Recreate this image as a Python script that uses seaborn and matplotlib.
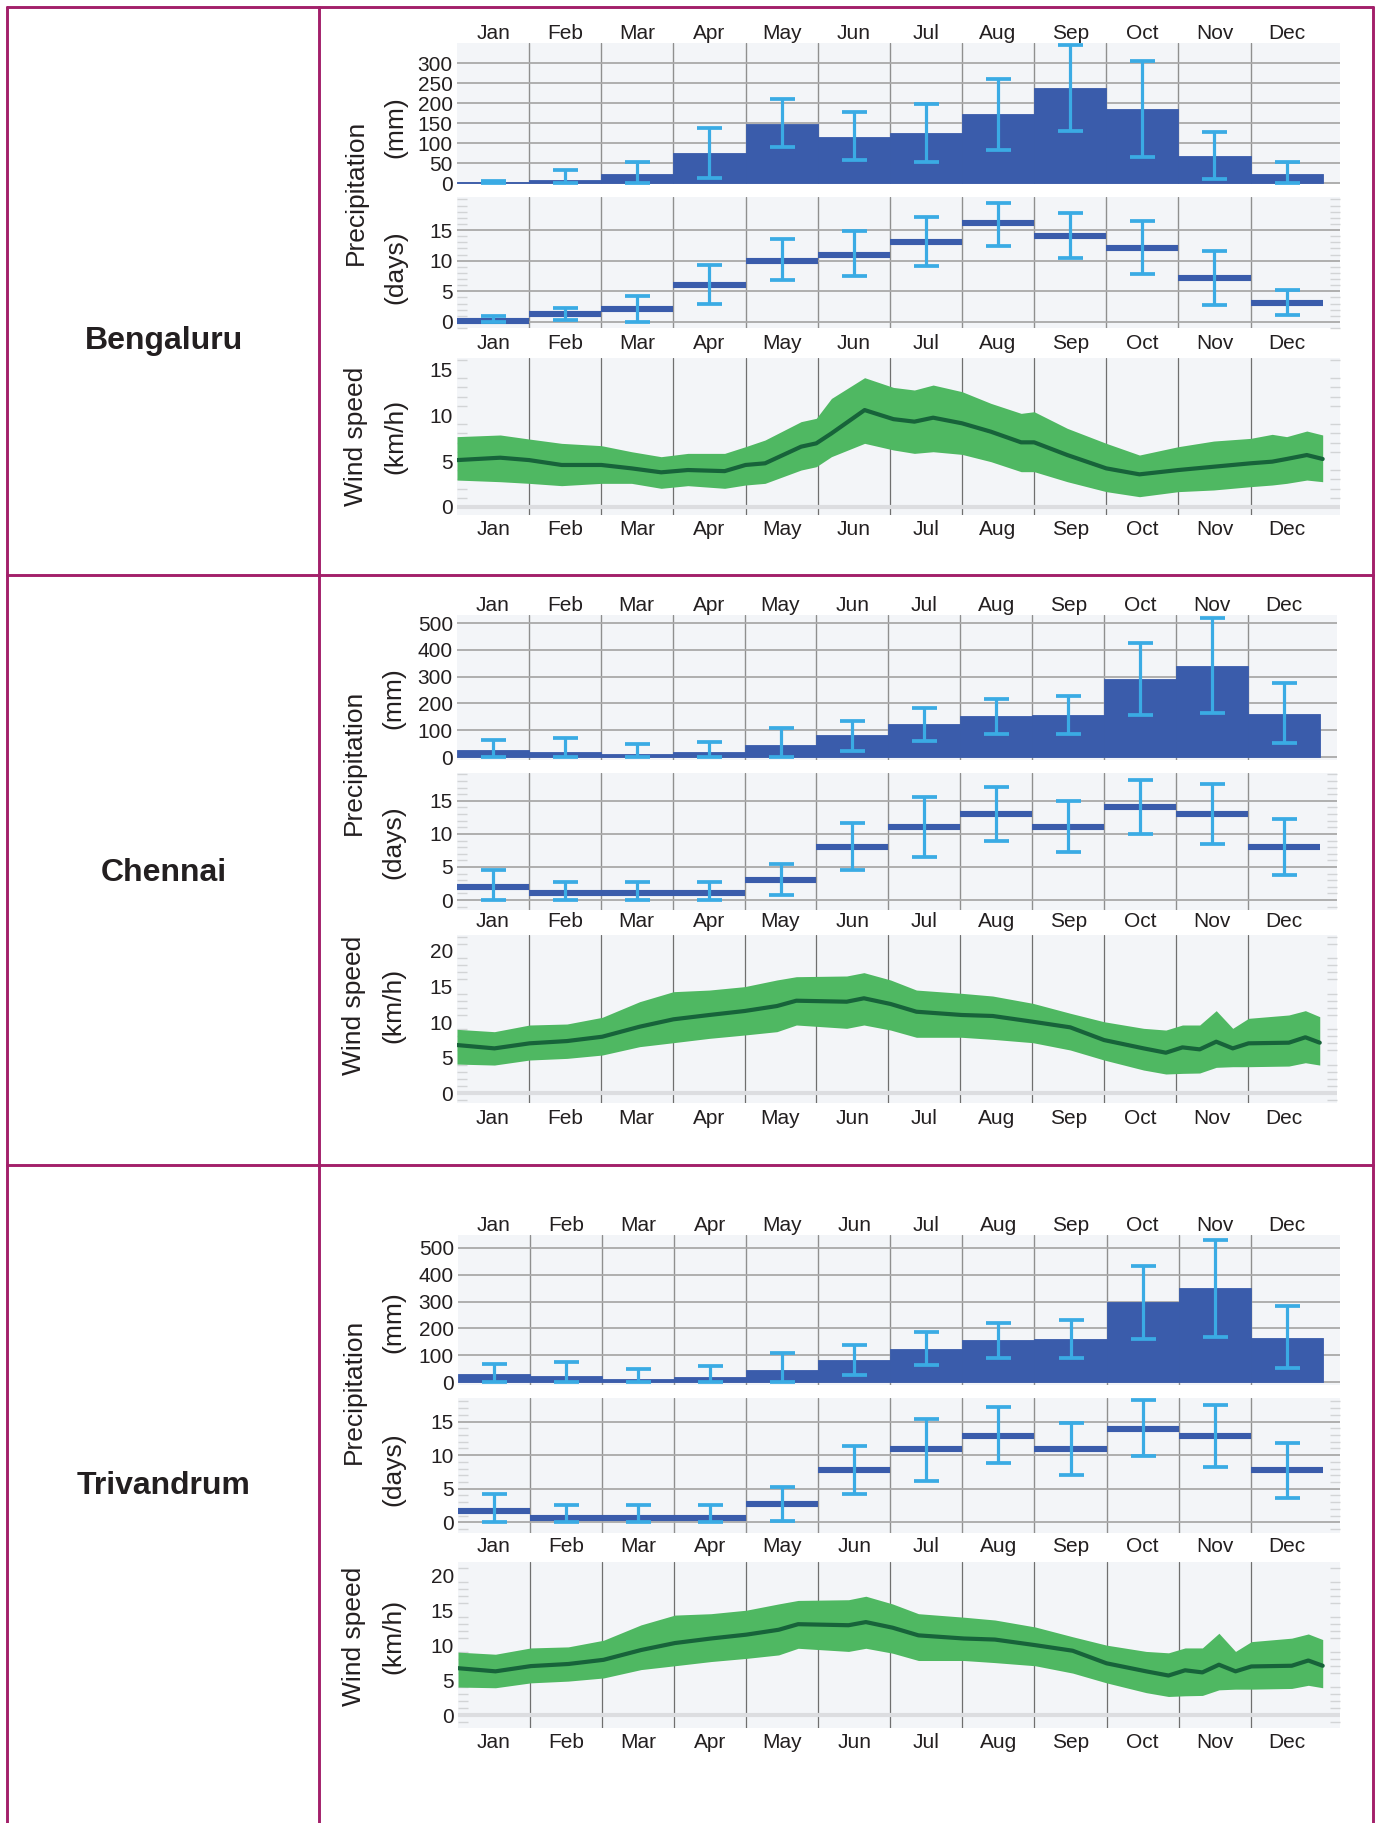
import numpy as np
import pandas as pd
import matplotlib
matplotlib.use("Agg")
import matplotlib.pyplot as plt
import seaborn as sns
from matplotlib.lines import Line2D
from matplotlib.ticker import MultipleLocator, FixedLocator

sns.set_theme(style="white")
plt.rcParams["font.family"] = ["Liberation Sans", "DejaVu Sans"]

months = ["Jan", "Feb", "Mar", "Apr", "May", "Jun",
          "Jul", "Aug", "Sep", "Oct", "Nov", "Dec"]

# ---------------- Bengaluru ----------------
blr_rain_mm = [2, 8, 23, 75, 148, 116, 126, 173, 238, 186, 68, 22]
blr_rain_mm_lo = [0, 0, 0, 13, 90, 57, 53, 84, 130, 66, 10, 0]
blr_rain_mm_hi = [5, 33, 54, 139, 210, 178, 198, 260, 344, 305, 128, 53]
blr_rain_days = [0.2, 1.25, 2.1, 6.1, 10.0, 11.0, 13.0, 16.1, 14.1, 12.0, 7.1, 3.1]
blr_rain_days_lo = [0, 0.3, 0, 3.0, 6.8, 7.5, 9.1, 12.4, 10.4, 7.8, 2.8, 1.1]
blr_rain_days_hi = [0.9, 2.3, 4.3, 9.3, 13.5, 14.9, 17.1, 19.5, 17.8, 16.4, 11.5, 5.2]
# wind: time in months from 1 Jan, mean speed and spread (km/h)
blr_wind_t = [0, 0.6, 1.0, 1.45, 2.0, 2.42, 2.83, 3.2, 3.71, 4.0, 4.27, 4.77, 4.98, 5.19,
              5.65, 6.05, 6.34, 6.6, 7.0, 7.4, 7.82, 8.0, 8.46, 9.0, 9.46, 10.0, 10.49,
              11.0, 11.3, 11.5, 11.78, 12.0]
blr_wind_mean = [5.1, 5.36, 5.1, 4.57, 4.57, 4.2, 3.77, 4.02, 3.9, 4.57, 4.75, 6.56, 6.92, 8.0,
                 10.54, 9.55, 9.28, 9.71, 9.1, 8.19, 7.03, 7.03, 5.65, 4.2, 3.55, 4.02, 4.38,
                 4.75, 4.93, 5.22, 5.65, 5.22]
blr_wind_hi = [7.65, 7.83, 7.39, 6.92, 6.67, 6.01, 5.47, 5.83, 5.83, 6.56, 7.28, 9.28, 9.64, 11.8,
               14.06, 13.0, 12.72, 13.26, 12.54, 11.27, 10.18, 10.36, 8.55, 6.92, 5.65, 6.56, 7.17,
               7.46, 7.9, 7.65, 8.26, 7.83]
blr_wind_lo = [2.93, 2.75, 2.57, 2.32, 2.57, 2.57, 2.03, 2.32, 2.03, 2.39, 2.57, 4.02, 4.38, 5.47,
               6.92, 6.2, 5.83, 6.01, 5.72, 4.93, 3.84, 3.84, 2.75, 1.67, 1.12, 1.67, 1.85,
               2.21, 2.39, 2.57, 2.93, 2.75]

# ---------------- Chennai ----------------
maa_rain_mm = [27, 20, 12, 18, 45, 81, 123, 152, 157, 293, 341, 162]
maa_rain_mm_lo = [0, 0, 0, 0, 0, 23, 61, 86, 86, 158, 164, 52]
maa_rain_mm_hi = [64, 72, 48, 58, 107, 135, 183, 217, 229, 426, 520, 277]
maa_rain_days = [2.0, 1.0, 1.0, 1.0, 3.05, 8.0, 11.1, 13.05, 11.1, 14.0, 13.05, 8.0]
maa_rain_days_lo = [0, 0, 0, 0, 0.7, 4.5, 6.55, 9.0, 7.3, 10.0, 8.5, 3.85]
maa_rain_days_hi = [4.5, 2.8, 2.7, 2.7, 5.4, 11.7, 15.5, 17.1, 14.9, 18.1, 17.6, 12.2]
maa_wind_t = [0, 0.52, 1.01, 1.53, 2.02, 2.54, 3.01, 3.51, 4.0, 4.45, 4.72, 5.42, 5.66, 6.03,
              6.39, 7.02, 7.45, 8.01, 8.53, 9.0, 9.55, 9.86, 10.09, 10.33, 10.56, 10.79, 11.01,
              11.57, 11.8, 12.0]
maa_wind_mean = [6.76, 6.29, 7.0, 7.32, 7.93, 9.34, 10.38, 10.99, 11.55, 12.25, 13.0, 12.86, 13.34,
                 12.54, 11.45, 10.99, 10.85, 10.04, 9.25, 7.46, 6.29, 5.68, 6.43, 6.15, 7.23, 6.29,
                 7.0, 7.09, 7.85, 7.09]
maa_wind_hi = [8.97, 8.64, 9.58, 9.72, 10.66, 12.86, 14.27, 14.5, 14.98, 15.92, 16.38, 16.48, 16.95,
               15.92, 14.5, 14.04, 13.66, 12.63, 11.23, 10.04, 9.11, 8.87, 9.58, 9.58, 11.6, 9.11,
               10.52, 10.99, 11.6, 10.75]
maa_wind_lo = [4.08, 3.94, 4.65, 4.88, 5.35, 6.53, 7.09, 7.7, 8.17, 8.64, 9.58, 9.11, 9.58,
               8.87, 7.85, 7.85, 7.56, 7.09, 6.06, 4.65, 3.24, 2.68, 2.77, 2.82, 3.62, 3.71,
               3.71, 3.8, 4.27, 3.94]

# ---------------- Trivandrum ----------------
trv_rain_mm = [29, 22, 12, 18, 45, 81, 125, 155, 160, 300, 350, 165]
trv_rain_mm_lo = [0, 0, 0, 0, 0, 25, 65, 88, 88, 160, 168, 52]
trv_rain_mm_hi = [66, 74, 50, 60, 108, 138, 186, 221, 233, 432, 530, 282]
trv_rain_days = [1.65, 0.7, 0.7, 0.7, 2.7, 7.8, 10.9, 12.9, 10.9, 13.9, 12.9, 7.8]
trv_rain_days_lo = [0, 0, 0, 0, 0.2, 4.2, 6.2, 8.8, 7.0, 9.8, 8.2, 3.6]
trv_rain_days_hi = [4.2, 2.5, 2.5, 2.5, 5.3, 11.4, 15.4, 17.1, 14.8, 18.2, 17.5, 11.8]
trv_wind_t = [0, 0.52, 1.01, 1.53, 2.02, 2.54, 3.01, 3.51, 4.0, 4.45, 4.72, 5.42, 5.66, 6.03,
              6.39, 7.02, 7.45, 8.01, 8.53, 9.0, 9.55, 9.86, 10.09, 10.33, 10.56, 10.79, 11.01,
              11.57, 11.8, 12.0]
trv_wind_mean = [6.7, 6.25, 7.0, 7.3, 7.9, 9.3, 10.3, 10.95, 11.5, 12.2, 13.0, 12.85, 13.3,
                 12.5, 11.4, 10.95, 10.8, 10.0, 9.2, 7.4, 6.25, 5.65, 6.4, 6.1, 7.2, 6.25,
                 6.95, 7.05, 7.8, 7.05]
trv_wind_hi = [9.0, 8.7, 9.6, 9.75, 10.7, 12.9, 14.3, 14.5, 15.0, 15.9, 16.4, 16.5, 17.0,
               15.9, 14.5, 14.0, 13.6, 12.6, 11.2, 10.0, 9.1, 8.9, 9.6, 9.6, 11.7, 9.1,
               10.5, 11.0, 11.6, 10.8]
trv_wind_lo = [4.0, 3.9, 4.6, 4.85, 5.3, 6.5, 7.05, 7.65, 8.1, 8.6, 9.55, 9.1, 9.55,
               8.85, 7.8, 7.8, 7.5, 7.05, 6.0, 4.6, 3.2, 2.65, 2.75, 2.8, 3.6, 3.7,
               3.7, 3.8, 4.25, 3.9]

# ---------------- styling ----------------
W, H = 1377, 1823
BAR = "#3a5cab"
ERR = "#3aabe4"
BAND = "#4fb862"
MEANLINE = "#17633a"
PANEL = "#f3f5f8"
GRID = "#a9a9a9"
VGRID = "#8f8f8f"
FRAME = "#a3206a"
TXT = "#231f20"
TICK_FS = 15
LABEL_FS = 19
XRIGHT = 11.5 + 0.24  # panel background runs a little past December

fig = plt.figure(figsize=(W / 100, H / 100), dpi=100)
fig.patch.set_facecolor("white")


def box(x0, y0, x1, y1):
    return [x0 / W, 1 - y1 / H, (x1 - x0) / W, (y1 - y0) / H]


def base_style(ax, ylim, yticks, xlab_pos, xpad, hgrid=True, minor_y=None):
    ax.set_facecolor(PANEL)
    for s in ax.spines.values():
        s.set_visible(False)
    ax.set_xlim(-0.5, XRIGHT)
    ax.set_ylim(*ylim)
    ax.set_yticks(yticks)
    ax.set_yticklabels([str(v) for v in yticks], fontsize=TICK_FS, color=TXT)
    ax.tick_params(axis="y", which="major", length=0, pad=3)
    ax.xaxis.set_major_locator(FixedLocator(range(12)))
    ax.xaxis.set_minor_locator(FixedLocator(np.arange(0.5, 11.0, 1.0)))
    ax.set_xticklabels(months, fontsize=TICK_FS, color=TXT)
    if xlab_pos == "top":
        ax.tick_params(axis="x", which="both", length=0, pad=xpad,
                       top=True, bottom=False, labeltop=True, labelbottom=False)
    else:
        ax.tick_params(axis="x", which="both", length=0, pad=xpad,
                       top=False, bottom=True, labeltop=False, labelbottom=True)
    ax.grid(False)
    ax.grid(True, which="minor", axis="x", color=VGRID, lw=1.0)
    if hgrid:
        ax.grid(True, which="major", axis="y", color=GRID, lw=1.3)
    if minor_y is not None:
        ax.yaxis.set_minor_locator(MultipleLocator(minor_y))
        ax.tick_params(axis="y", which="minor", left=True, right=True, direction="in",
                       length=7, width=1.0, color="#d2d4d6")
    ax.set_axisbelow(True)
    ax.set_xlabel("")
    ax.set_ylabel("")


def rain_mm_panel(rect, vals, lo, hi, ylim, yticks):
    ax = fig.add_axes(box(*rect))
    df = pd.DataFrame({"month": months, "mm": vals})
    sns.barplot(data=df, x="month", y="mm", order=months, color=BAR, saturation=1,
                width=1.0, errorbar=None, ax=ax, edgecolor=BAR, linewidth=0.6, zorder=2)
    v = np.array(vals, float)
    ax.errorbar(np.arange(12), v, yerr=[v - np.array(lo), np.array(hi) - v], fmt="none",
                ecolor=ERR, elinewidth=2.3, capsize=9, capthick=2.7, zorder=3)
    base_style(ax, ylim, yticks, "top", 0)
    return ax


def rain_days_panel(rect, vals, lo, hi, ylim, pad):
    ax = fig.add_axes(box(*rect))
    v = np.array(vals, float)
    x = np.arange(12)
    ax.hlines(v, x - 0.5, x + 0.5, colors=BAR, lw=4.4, zorder=2)
    ax.errorbar(x, v, yerr=[v - np.array(lo), np.array(hi) - v], fmt="none",
                ecolor=ERR, elinewidth=2.3, capsize=9, capthick=2.7, zorder=3)
    base_style(ax, ylim, [0, 5, 10, 15], "bottom", pad, minor_y=1)
    return ax


def wind_panel(rect, t, mean, lo, hi, ylim, yticks, pad):
    ax = fig.add_axes(box(*rect))
    tt = np.array(t, float) - 0.5
    ax.fill_between(tt, lo, hi, color=BAND, lw=0, zorder=2)
    df = pd.DataFrame({"t": tt, "speed": mean})
    sns.lineplot(data=df, x="t", y="speed", color=MEANLINE, lw=3.0, ax=ax, zorder=3)
    ax.axhline(0, color="#dcdde0", lw=3, zorder=1)
    base_style(ax, ylim, yticks, "bottom", pad, hgrid=False, minor_y=1)
    ax.grid(True, which="minor", axis="x", color="#6f6f6f", lw=0.9)
    return ax


def side_labels(x_main, x_unit, y_prec, y_mm, y_days, y_wind):
    kw = dict(rotation=90, ha="center", va="center", fontsize=LABEL_FS, color=TXT)
    fig.text(x_main / W, 1 - y_prec / H, "Precipitation", **kw)
    fig.text(x_unit / W, 1 - y_mm / H, "(mm)", **kw)
    fig.text(x_unit / W, 1 - y_days / H, "(days)", **kw)
    fig.text(x_main / W, 1 - y_wind / H, "Wind speed", **kw)
    fig.text(x_unit / W, 1 - y_wind / H, "(km/h)", **kw)


# Bengaluru block
rain_mm_panel((457, 43, 1340, 184), blr_rain_mm, blr_rain_mm_lo, blr_rain_mm_hi,
              (-2, 350), [0, 50, 100, 150, 200, 250, 300])
rain_days_panel((457, 197, 1340, 328), blr_rain_days, blr_rain_days_lo, blr_rain_days_hi,
                (-1.0, 20.4), 4)
wind_panel((457, 358, 1340, 515), blr_wind_t, blr_wind_mean, blr_wind_lo, blr_wind_hi,
           (-0.87, 16.2), [0, 5, 10, 15], 3.5)
side_labels(356, 395, 192, 127, 267, 436)

# Chennai block
rain_mm_panel((457, 615, 1337, 760), maa_rain_mm, maa_rain_mm_lo, maa_rain_mm_hi,
              (-11, 530), [0, 100, 200, 300, 400, 500])
rain_days_panel((457, 773, 1337, 910), maa_rain_days, maa_rain_days_lo, maa_rain_days_hi,
                (-1.5, 19.2), 1.5)
wind_panel((457, 935, 1337, 1103), maa_wind_t, maa_wind_mean, maa_wind_lo, maa_wind_hi,
           (-1.4, 22.25), [0, 5, 10, 15, 20], 4)
side_labels(354, 393, 762, 698, 842, 1005)

# Trivandrum block
rain_mm_panel((458, 1235, 1340, 1385), trv_rain_mm, trv_rain_mm_lo, trv_rain_mm_hi,
              (-11, 548), [0, 100, 200, 300, 400, 500])
rain_days_panel((458, 1398, 1340, 1533), trv_rain_days, trv_rain_days_lo, trv_rain_days_hi,
                (-1.6, 18.5), 3)
wind_panel((458, 1562, 1340, 1728), trv_wind_t, trv_wind_mean, trv_wind_lo, trv_wind_hi,
           (-1.86, 21.9), [0, 5, 10, 15, 20], 3.5)
side_labels(354, 393, 1391, 1322, 1469, 1636)

# City names
for name, yc in [("Bengaluru", 341), ("Chennai", 873), ("Trivandrum", 1486)]:
    fig.text(164 / W, 1 - yc / H, name, ha="center", va="center", fontsize=23,
             fontweight="bold", color=TXT)

# Table frame
frame_kw = dict(color=FRAME, lw=2.1, transform=fig.transFigure, zorder=10)
for xp in (7, 319, 1373):
    fig.add_artist(Line2D([xp / W, xp / W], [1 - 7 / H, 0], **frame_kw))
for yp in (7, 575, 1165):
    fig.add_artist(Line2D([7 / W, 1373 / W], [1 - yp / H, 1 - yp / H], **frame_kw))

fig.savefig("out.png", dpi=100, facecolor="white")
